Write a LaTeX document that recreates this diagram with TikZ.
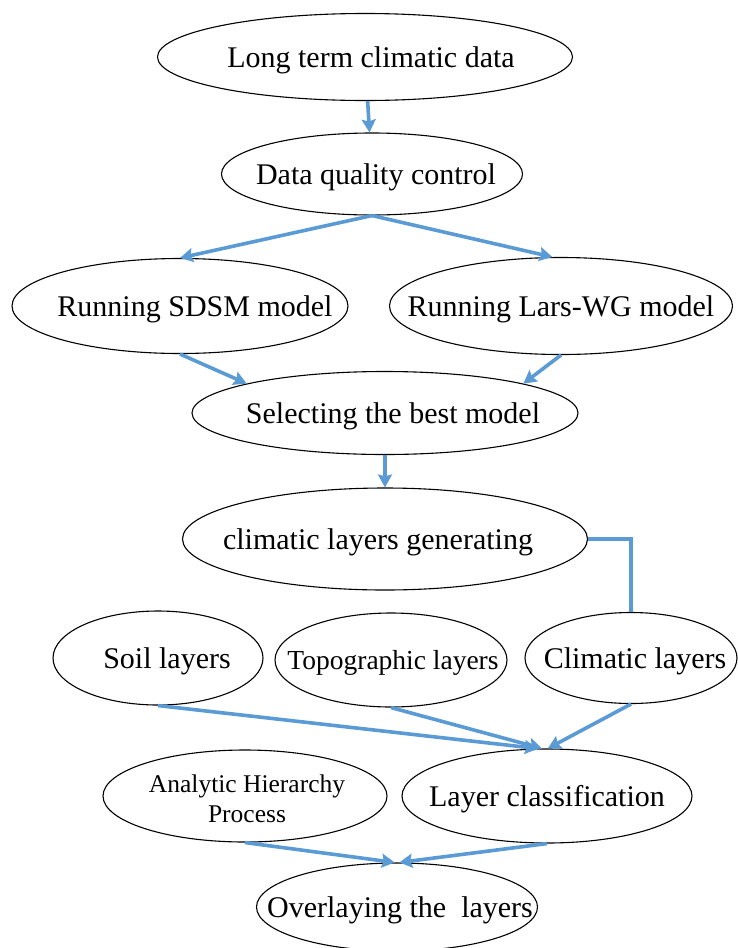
\documentclass[tikz,border=0pt]{standalone}
\usepackage{fontspec}
\setmainfont{Liberation Serif}
\usetikzlibrary{shapes.geometric,arrows.meta}
\definecolor{linkblue}{RGB}{91,155,213}
\begin{document}
\begin{tikzpicture}[x=1pt,y=-1pt,
  ell/.style={ellipse,draw,line width=1.1pt,inner sep=0pt},
  txt/.style={inner sep=0pt,yshift=-3pt,font=\fontsize{30}{30}\selectfont},
  link/.style={draw=linkblue,line width=3.6pt,-{Stealth[length=13pt,width=14pt,inset=2pt]}},
  plain/.style={draw=linkblue,line width=3.6pt}]
\useasboundingbox (0,0) rectangle (737,948);

\node[ell,minimum width=415pt,minimum height=87pt,label={[txt,xshift=6pt]center:Long term climatic data}](A) at (365,57){};
\node[ell,minimum width=301pt,minimum height=82pt,label={[txt,xshift=4pt]center:Data quality control}](B) at (372,174){};
\node[ell,minimum width=336pt,minimum height=95pt,label={[txt,xshift=15pt]center:Running SDSM model}](C1) at (180,306){};
\node[ell,minimum width=343pt,minimum height=97pt,label={[txt]center:Running Lars-WG model}](C2) at (561,306){};
\node[ell,minimum width=386pt,minimum height=83pt,label={[txt,xshift=8pt]center:Selecting the best model}](D) at (385,413){};
\node[ell,minimum width=405pt,minimum height=102pt,label={[txt,xshift=-7pt]center:climatic layers generating}](E) at (385,539){};

\draw[link](A)--(B);
\draw[link](B.south)--(C1.north);
\draw[link](B.south)--(C2.100);
\draw[link](C1.south)--(D.168);
\draw[link](C2.south)--(D.12);
\draw[link](D)--(E);

\node[ell,minimum width=210pt,minimum height=94pt,label={[txt,xshift=9pt]center:Soil layers}](F1) at (158,658){};
\node[ell,minimum width=232pt,minimum height=94pt,label={[txt,xshift=2pt,font=\fontsize{27.5}{30}\selectfont]center:Topographic layers}](F2) at (391,660){};
\node[ell,minimum width=212pt,minimum height=91pt,label={[txt,xshift=4pt]center:Climatic layers}](F3) at (631,658){};
\draw[plain](E.east)-|(F3.north);

\node[ell,minimum width=290pt,minimum height=94pt,label={[txt]center:Layer classification}](G2) at (547,796){};
\node[ell,minimum width=284pt,minimum height=92pt,label={[txt,xshift=2pt,align=center,font=\fontsize{25.5}{30}\selectfont]center:Analytic Hierarchy\\Process}](G1) at (245,796){};

\draw[link](F1.south)--(G2.101);
\draw[link](F2.south)--(G2.96);
\draw[link](F3.south)--(G2.89);

\node[ell,minimum width=281pt,minimum height=88pt,label={[txt,xshift=3pt]center:Overlaying the\ \ layers}](H) at (397,907){};
\draw[link](G1.south)--(H.93);
\draw[link](G2.south)--(H.87);

\end{tikzpicture}
\end{document}
